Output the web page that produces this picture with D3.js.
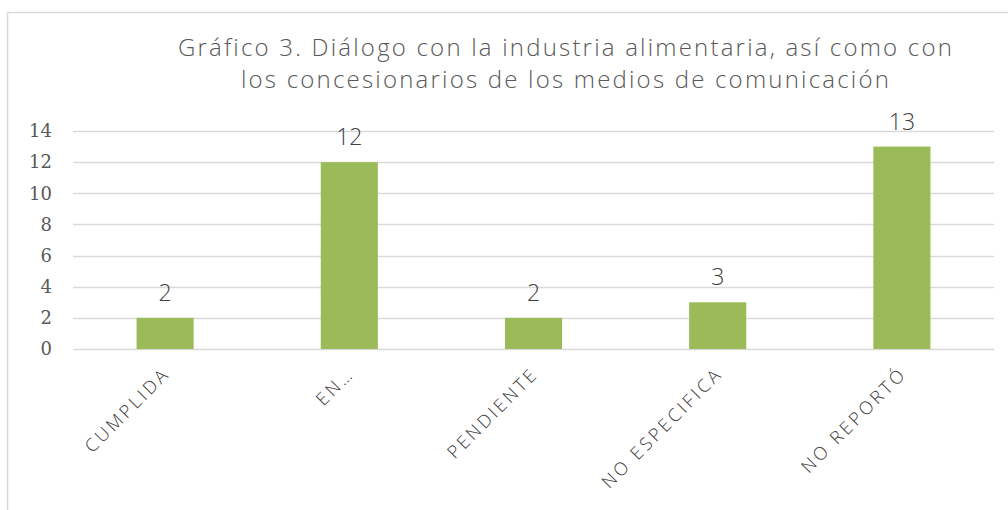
<!DOCTYPE html>
<html>
<head>
<meta charset="utf-8">
<script src="https://cdn.jsdelivr.net/npm/d3@7"></script>
<style>
  body { margin: 0; background: #fff; }
</style>
</head>
<body>
<div id="chart"></div>
<script>
// data
var categories = ["CUMPLIDA", "EN…", "PENDIENTE", "NO ESPECIFICA", "NO REPORTÓ"];
var values = [2, 12, 2, 3, 13];
var yTicks = [0, 2, 4, 6, 8, 10, 12, 14];
var titleLines = ["Gráfico 3. Diálogo con la industria alimentaria, así como con",
                  "los concesionarios de los medios de comunicación"];

var W = 1008, H = 510;
var margin = {top: 131, right: 14, bottom: 161, left: 73},
    width = W - margin.left - margin.right,
    height = H - margin.top - margin.bottom;

var svg = d3.select("#chart")
  .append("svg")
    .attr("width", W)
    .attr("height", H);

// chart frame
svg.append("rect")
  .attr("x", 7.5).attr("y", 12.5)
  .attr("width", 1020).attr("height", 600)
  .attr("fill", "none")
  .attr("stroke", "#d9d9d9")
  .attr("stroke-width", 1.5);

// title
svg.append("text")
  .attr("text-anchor", "middle")
  .style("font-family", "'Open Sans', sans-serif")
  .style("font-weight", 300)
  .style("font-size", "24px")
  .style("letter-spacing", "2.2px")
  .attr("fill", "#595959")
  .selectAll("tspan")
  .data(titleLines)
  .enter().append("tspan")
    .attr("x", 566)
    .attr("y", function(d, i) { return 56 + i * 32; })
    .text(function(d) { return d; });

var g = svg.append("g")
  .attr("transform", "translate(" + margin.left + "," + margin.top + ")");

var x = d3.scaleBand()
  .domain(categories)
  .range([0, width])
  .paddingInner(0.69)
  .paddingOuter(0.345);

var y = d3.scaleLinear()
  .domain([0, 14])
  .range([height, 0]);

// gridlines
g.append("g")
  .selectAll("line")
  .data(yTicks)
  .enter().append("line")
    .attr("x1", 0).attr("x2", width)
    .attr("y1", function(d) { return Math.round(y(d)) + 0.5; })
    .attr("y2", function(d) { return Math.round(y(d)) + 0.5; })
    .attr("stroke", "#d9d9d9")
    .attr("stroke-width", 1.5);

// y axis labels
var yAxis = g.append("g")
  .call(d3.axisLeft(y).tickValues(yTicks).tickSize(0).tickPadding(21));
yAxis.select(".domain").remove();
yAxis.selectAll("text")
  .style("font-family", "'DejaVu Serif', serif")
  .style("font-size", "18px")
  .attr("fill", "#595959");

// bars
g.selectAll("rect.bar")
  .data(values)
  .enter().append("rect")
    .attr("class", "bar")
    .attr("x", function(d, i) { return x(categories[i]); })
    .attr("y", function(d) { return y(d); })
    .attr("width", x.bandwidth())
    .attr("height", function(d) { return height - y(d); })
    .attr("fill", "#9bbb59");

// value labels
g.selectAll("text.val")
  .data(values)
  .enter().append("text")
    .attr("class", "val")
    .attr("x", function(d, i) { return x(categories[i]) + x.bandwidth() / 2; })
    .attr("y", function(d) { return y(d) - 17; })
    .attr("text-anchor", "middle")
    .style("font-family", "'Open Sans', sans-serif")
    .style("font-weight", 300)
    .style("font-size", "23px")
    .attr("fill", "#404040")
    .text(function(d) { return d; });

// x axis labels
var xAxis = g.append("g")
  .attr("transform", "translate(0," + height + ")")
  .call(d3.axisBottom(x).tickSize(0).tickPadding(0));
xAxis.select(".domain").remove();
xAxis.selectAll("text")
  .style("font-family", "'Open Sans', sans-serif")
  .style("font-weight", 300)
  .style("font-size", "18px")
  .style("letter-spacing", "3px")
  .attr("fill", "#404040")
  .attr("text-anchor", "end")
  .attr("dy", null)
  .attr("y", 0)
  .attr("transform", "translate(6,26) rotate(-45)");
</script>
</body>
</html>
